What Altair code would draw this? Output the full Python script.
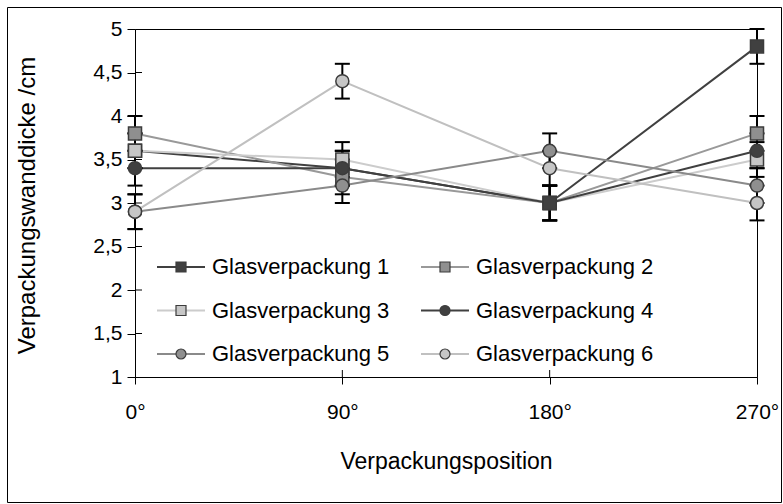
import altair as alt
import pandas as pd

# ---------------- data ----------------
positions = ["0°", "90°", "180°", "270°"]
names = ["Glasverpackung 1", "Glasverpackung 2", "Glasverpackung 3",
         "Glasverpackung 4", "Glasverpackung 5", "Glasverpackung 6"]

g1 = [3.6, 3.4, 3.0, 4.8]
g2 = [3.8, 3.3, 3.0, 3.8]
g3 = [3.6, 3.5, 3.0, 3.5]
g4 = [3.4, 3.4, 3.0, 3.6]
g5 = [2.9, 3.2, 3.6, 3.2]
g6 = [2.9, 4.4, 3.4, 3.0]

e1 = [0.2, 0.2, 0.2, 0.2]
e2 = [0.2, 0.2, 0.2, 0.2]
e3 = [0.2, 0.2, 0.2, 0.2]
e4 = [0.2, 0.2, 0.2, 0.2]
e5 = [0.2, 0.2, 0.2, 0.2]
e6 = [0.2, 0.2, 0.2, 0.2]

y_ticks = [1, 1.5, 2, 2.5, 3, 3.5, 4, 4.5, 5]

# ---------------- styles ----------------
shapes = ["square", "square", "square", "circle", "circle", "circle"]
fills = ["#404040", "#8f8f8f", "#c6c6c6", "#404040", "#8f8f8f", "#c6c6c6"]
lines = ["#404040", "#999999", "#cccccc", "#404040", "#8a8a8a", "#c0c0c0"]
sizes = [170, 170, 170, 150, 150, 150]
legend_sizes = [100, 100, 100, 95, 95, 95]
FONT = "Liberation Sans"

W, H = 622, 348
LEFT, TOP = 135, 29

vals = [g1, g2, g3, g4, g5, g6]
errs = [e1, e2, e3, e4, e5, e6]
rows = []
for si, (nm, v, e) in enumerate(zip(names, vals, errs)):
    for pi, p in enumerate(positions):
        rows.append({"series": nm, "pos": p, "val": v[pi],
                     "lo": v[pi] - e[pi], "hi": v[pi] + e[pi], "order": si})
df = pd.DataFrame(rows)

# draw order of markers: the series-1 marker at 180° is on top in the reference
pts = df.copy()
top_mask = (pts["series"] == names[0]) & (pts["pos"] == positions[2])
pts = pd.concat([pts[~top_mask], pts[top_mask]], ignore_index=True)

caps = pd.concat([
    df[["series", "pos"]].assign(cap=df["lo"]),
    df[["series", "pos"]].assign(cap=df["hi"]),
], ignore_index=True)

# legend table (layout computed here)
leg_rows = []
for i, nm in enumerate(names):
    col, row = i % 2, i // 2
    mx = 46 + col * 264
    my = 238 + row * 43.5
    leg_rows.append({"series": nm, "mx": mx, "my": my,
                     "lx1": mx - 24, "lx2": mx + 24, "tx": mx + 31})
leg = pd.DataFrame(leg_rows)

ytitle = "Verpackungswanddicke /cm"
xtitle = "Verpackungsposition"

xscale = alt.Scale(type="point", padding=0, domain=positions)
yscale = alt.Scale(domain=[1, 5], nice=False, zero=False)

xaxis = alt.Axis(
    labelFont=FONT, labelFontSize=21, labelColor="black", labelAngle=0,
    labelPadding=28, labelBaseline="middle",
    tickSize=7, tickColor="black", domainColor="black", grid=False,
    titleFont=FONT, titleFontSize=23, titleFontWeight="normal", titleColor="black",
    titleY=84, titleBaseline="middle",
)
yaxis = alt.Axis(
    values=y_ticks, labelFont=FONT, labelFontSize=21, labelColor="black",
    labelExpr="replace(format(datum.value, '.1~f'), '.', ',')",
    labelPadding=5, tickSize=8, tickColor="black", domainColor="black", grid=False,
    titleFont=FONT, titleFontSize=24, titleFontWeight="normal", titleColor="black",
    titleX=-108, titleY=H / 2 + 2, titleBaseline="middle", titleAngle=-90,
)

X_main = alt.X("pos:O", scale=xscale, axis=xaxis, title=xtitle)
X_noax = alt.X("pos:O", scale=xscale, axis=None)
Y_main = alt.Y("val:Q", scale=yscale, axis=yaxis, title=ytitle)

stroke_enc = alt.Stroke("series:N", scale=alt.Scale(domain=names, range=lines), legend=None)
fill_enc = alt.Fill("series:N", scale=alt.Scale(domain=names, range=fills), legend=None)
shape_enc = alt.Shape("series:N", scale=alt.Scale(domain=names, range=shapes), legend=None)

lines_layer = alt.Chart(df).mark_line(strokeWidth=2).encode(
    x=X_main, y=Y_main, stroke=stroke_enc, order=alt.Order("order:Q"))

err_rule = alt.Chart(df).mark_rule(color="black", strokeWidth=2).encode(
    x=X_noax, y=alt.Y("lo:Q", scale=yscale, axis=None), y2="hi:Q")

err_caps = alt.Chart(caps).mark_tick(color="black", thickness=2, size=15, opacity=1).encode(
    x=X_noax, y=alt.Y("cap:Q", scale=yscale, axis=None))

points = alt.Chart(pts).mark_point(filled=True, opacity=1, stroke="#3c3c3c", strokeWidth=1.5).encode(
    x=X_noax, y=alt.Y("val:Q", scale=yscale, axis=None),
    fill=fill_enc, shape=shape_enc,
    size=alt.Size("series:N", scale=alt.Scale(domain=names, range=sizes), legend=None),
    order=alt.Order("idx:Q"))
points = points.transform_window(idx="row_number()")

# inward halves of the crossing tick marks
ytick_df = pd.DataFrame({"t": y_ticks[1:-1]})
ytick_in = alt.Chart(ytick_df).mark_rule(color="black", strokeWidth=1).encode(
    y=alt.Y("t:Q", scale=yscale, axis=None), x=alt.value(0), x2=alt.value(7))
xtick_df = pd.DataFrame({"pos": positions[1:-1]})
xtick_in = alt.Chart(xtick_df).mark_rule(color="black", strokeWidth=1).encode(
    x=X_noax, y=alt.value(H - 7), y2=alt.value(H))

# legend
LX = lambda f: alt.X(f, scale=None, axis=None)
LY = lambda f: alt.Y(f, scale=None, axis=None)
leg_line = alt.Chart(leg).mark_rule(strokeWidth=2).encode(
    x=LX("lx1:Q"), x2="lx2:Q", y=LY("my:Q"), stroke=stroke_enc)
leg_pt = alt.Chart(leg).mark_point(filled=True, opacity=1, stroke="#3c3c3c", strokeWidth=1.2).encode(
    x=LX("mx:Q"), y=LY("my:Q"), fill=fill_enc, shape=shape_enc,
    size=alt.Size("series:N", scale=alt.Scale(domain=names, range=legend_sizes), legend=None))
leg_txt = alt.Chart(leg).mark_text(align="left", baseline="middle", font=FONT,
                                   fontSize=22, color="black").encode(
    x=LX("tx:Q"), y=LY("my:Q"), text="series:N")

# outer chart border
border = alt.Chart(pd.DataFrame({"a": [0]})).mark_rect(
    fill="transparent", stroke="black", strokeWidth=1).encode(
    x=alt.value(7.5 - LEFT), x2=alt.value(781.5 - LEFT),
    y=alt.value(7.5 - TOP), y2=alt.value(502.5 - TOP))

chart = alt.layer(
    border, lines_layer, err_rule, err_caps, points, ytick_in, xtick_in,
    leg_line, leg_pt, leg_txt
).resolve_scale(
    x="independent", y="independent", size="independent"
).properties(
    width=W, height=H,
    autosize=alt.AutoSizeParams(type="none"),
    padding={"left": LEFT, "top": TOP, "right": 783 - LEFT - W, "bottom": 504 - TOP - H},
    background="white",
).configure_view(stroke="black", strokeWidth=1)

chart.save("out.html", embed_options={"renderer": "svg", "actions": False})
